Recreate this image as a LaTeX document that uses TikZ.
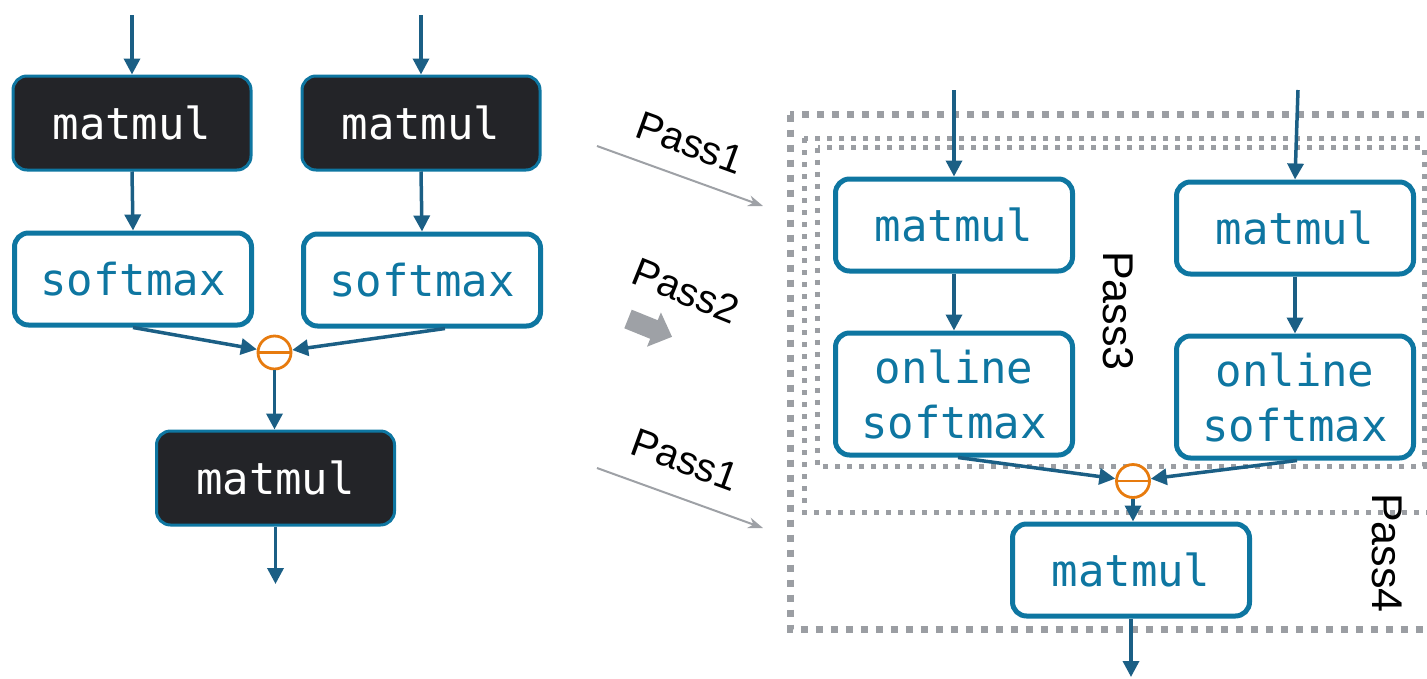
\documentclass[tikz,border=0pt]{standalone}
\usepackage{fontspec}
\setmainfont{Liberation Sans}
\newfontfamily\monofont{DejaVu Sans Mono}
\usetikzlibrary{arrows.meta,calc}
\definecolor{boxblue}{HTML}{0E76A1}
\definecolor{arrowblue}{HTML}{1B5F85}
\definecolor{darkfill}{HTML}{232428}
\definecolor{oporange}{HTML}{E77B0E}
\definecolor{dotgray}{HTML}{9B9EA3}
\definecolor{passgray}{HTML}{9EA1A6}
\tikzset{
  darkbox/.style={draw=boxblue, fill=darkfill, line width=3pt, rounded corners=14pt,
    minimum width=238pt, minimum height=94pt, inner sep=0pt, text=white,
    font=\monofont\fontsize{44}{55}\selectfont},
  whitebox/.style={draw=boxblue, fill=white, line width=5pt, rounded corners=14pt,
    minimum width=237pt, minimum height=92pt, inner sep=0pt, text=boxblue,
    font=\monofont\fontsize{44}{55}\selectfont, align=center},
  tallbox/.style={whitebox, minimum height=122pt},
  flow/.style={draw=arrowblue, line width=3.5pt, -{Triangle[length=16pt,width=16pt]}},
  opcirc/.style={circle, draw=oporange, fill=white, line width=2.8pt, minimum size=33pt, inner sep=0pt,
    path picture={\draw[oporange,line width=2.8pt] (path picture bounding box.west) -- (path picture bounding box.east);}},
  passlabel/.style={inner sep=0pt, text=black},
  passarrow/.style={draw=passgray, line width=2pt, -{Stealth[length=15pt,width=11pt]}},
  dotA/.style={draw=dotgray, line width=7pt, dash pattern=on 7pt off 8pt},
  dotB/.style={draw=dotgray, line width=5pt, dash pattern=on 5pt off 7pt},
}
\begin{document}
\begin{tikzpicture}[x=1pt,y=-1pt]
\useasboundingbox (0,0) rectangle (1427,678);
\clip (0,0) rectangle (1427,678);

% ---------- left graph ----------
\coordinate (in1) at (132,15);
\coordinate (in2) at (421,15);
\node[darkbox] (m1) at (132,123) {matmul};
\node[darkbox] (m2) at (421,123) {matmul};
\node[whitebox] (s1) at (133,279) {softmax};
\node[whitebox] (s2) at (422,280) {softmax};
\node[opcirc] (c1) at (274.5,352.5) {};
\node[darkbox] (m3) at (275.5,478) {matmul};
\coordinate (out1) at (275.5,584);

\draw[flow] (in1) -- (m1.north);
\draw[flow] (in2) -- (m2.north);
\draw[flow] (m1.south) -- (s1.north);
\draw[flow] (m2.south) -- (s2.north);
\draw[flow] (s1.south) -- (c1);
\draw[flow] ([xshift=23pt]s2.south) -- (c1);
\draw[flow] (c1.south) -- (c1.south |- m3.north);
\draw[flow] (m3.south) -- (out1);

% ---------- middle pass arrows ----------
\coordinate (pa1) at (597,146);
\coordinate (pb1) at (763,206);
\coordinate (pa2) at (597,468);
\coordinate (pb2) at (763,528);
\draw[passarrow] (pa1) -- (pb1);
\draw[passarrow] (pa2) -- (pb2);
\node[passlabel, rotate=-20, font=\fontsize{40}{42}\selectfont] (p1a) at (690,143) {Pass1};
\node[passlabel, rotate=-22, font=\fontsize{40}{42}\selectfont] (p2) at (686,291) {Pass2};
\node[passlabel, rotate=-20, font=\fontsize{40}{42}\selectfont] (p1b) at (685,460) {Pass1};
\fill[passgray] (624.3,328.3) -- (631.75,309.7) -- (657.7,320.2) -- (660.9,312.4)
  -- (672.0,336.8) -- (647.0,346.7) -- (650.2,338.8) -- cycle;

% ---------- right graph: dotted pass boxes ----------
\draw[dotA] (790,114.5) rectangle (1470,629);
\draw[dotB] (804,138) rectangle (1470,512);
\draw[dotB] (817.5,147.5) rectangle (1424,466);

\node[passlabel, rotate=-90, font=\fontsize{43}{45}\selectfont] (p3) at (1118,311) {Pass3};
\node[passlabel, rotate=-90, font=\fontsize{43}{45}\selectfont] (p4) at (1387,553) {Pass4};

\coordinate (in3) at (954,90);
\coordinate (in4) at (1298,90);
\node[whitebox] (r1) at (954,225) {matmul};
\node[whitebox] (r2) at (1295,228) {matmul};
\node[tallbox] (o1) at (954,394) {online\\softmax};
\node[tallbox] (o2) at (1295,397) {online\\softmax};
\node[opcirc] (c2) at (1133,481) {};
\node[whitebox] (r3) at (1131,570) {matmul};
\coordinate (out2) at (1131,677);

\draw[flow] (in3) -- (r1.north);
\draw[flow] (in4) -- (r2.north);
\draw[flow] (r1.south) -- (o1.north);
\draw[flow] (r2.south) -- (o2.north);
\draw[flow] ([xshift=4pt]o1.south) -- (c2);
\draw[flow] ([xshift=2pt]o2.south) -- (c2);
\draw[flow] (c2.south) -- (c2.south |- r3.north);
\draw[flow] (r3.south) -- (out2);
\end{tikzpicture}
\end{document}
